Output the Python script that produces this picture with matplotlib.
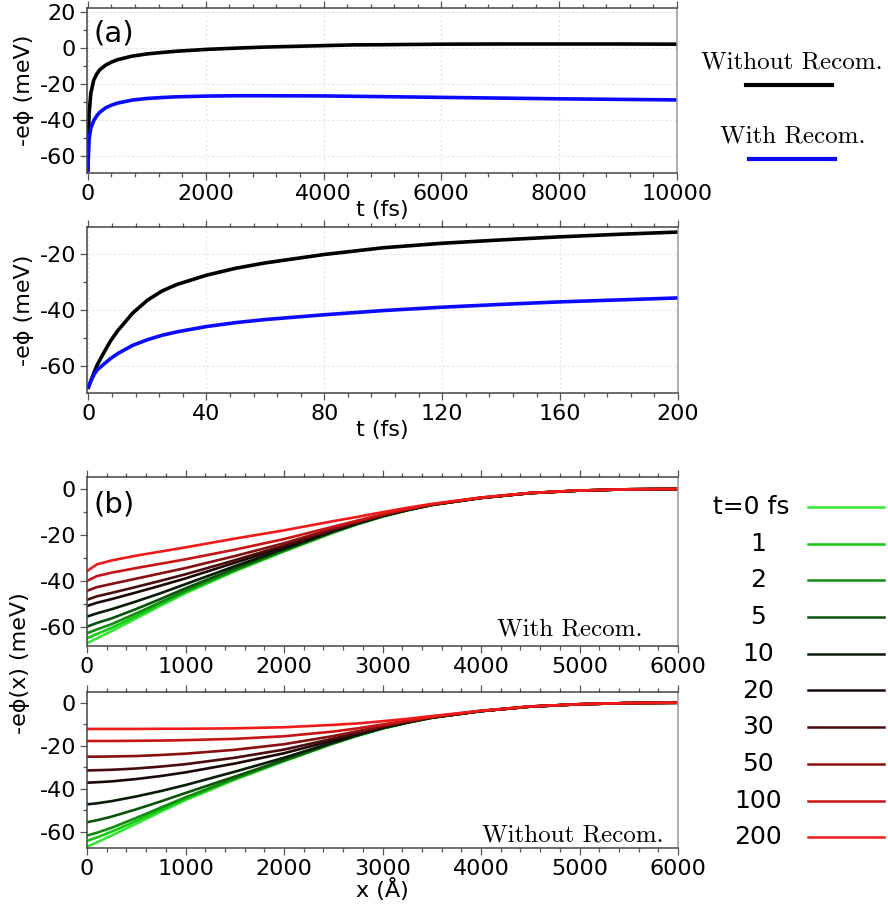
import matplotlib
matplotlib.use("Agg")
import matplotlib.pyplot as plt
from matplotlib.ticker import MultipleLocator
from matplotlib.lines import Line2D

plt.rcParams['axes.unicode_minus'] = False
plt.rcParams['font.family'] = 'DejaVu Sans'

# ---------------- data ----------------
# (a) top: surface potential over long times
t_long = [0, 20, 50, 100, 150, 200, 300, 400, 500, 750, 1000, 1250, 1500, 2000,
          2500, 3000, 4000, 4500, 5000, 6000, 7000, 8000, 9000, 10000]
phi_without_long = [-67.5, -36.5, -25.1, -17.8, -14.5, -12.2, -9.6, -7.9, -6.6, -4.6,
                    -3.4, -2.6, -1.9, -0.9, -0.2, 0.4, 1.2, 1.6, 1.7, 2.0, 2.1, 2.1,
                    2.1, 2.0]
phi_with_long = [-67.5, -50.6, -44.5, -40.2, -37.6, -35.7, -33.2, -31.7, -30.6, -28.9,
                 -28.0, -27.5, -27.1, -26.7, -26.5, -26.5, -26.6, -26.8, -27.0, -27.4,
                 -27.8, -28.2, -28.5, -28.8]

# (a) bottom: first 200 fs
t_short = [0, 1, 2, 3, 5, 7.5, 10, 15, 20, 25, 30, 40, 50, 60, 80, 100, 120,
           140, 160, 180, 200]
phi_without_short = [-67.5, -64.7, -62.0, -59.5, -55.6, -51.0, -47.3, -41.1, -36.5,
                     -33.2, -30.9, -27.6, -25.1, -23.2, -20.2, -17.8, -16.2, -15.0,
                     -13.9, -13.0, -12.2]
phi_with_short = [-67.5, -64.9, -62.8, -61.3, -59.5, -57.3, -55.5, -52.6, -50.6, -49.0,
                  -47.8, -45.9, -44.5, -43.4, -41.7, -40.2, -39.0, -38.0, -37.1,
                  -36.4, -35.7]

# (b) potential profiles phi(x) at selected times
x_pos = [0, 100, 250, 500, 750, 1000, 1500, 2000, 2500, 2750, 3000, 3250, 3500,
         4000, 4500, 5000, 5500, 6000]
times = ['t=0 fs', '1', '2', '5', '10', '20', '30', '50', '100', '200']
time_colors = ['#33e833', '#14c814', '#108c10', '#0b540b', '#071d07',
               '#1e0707', '#4a0c0c', '#8a1010', '#c81414', '#f01a1a']

profiles_with = [
    [-67.1, -65.0, -61.8, -56.3, -50.7, -45.3, -35.8, -27.2, -19.0, -15.3, -12.0, -9.3, -7.0, -3.9, -1.8, -0.7, -0.15, 0.0],
    [-64.9, -63.1, -60.4, -55.3, -50.0, -44.8, -35.5, -27.0, -18.9, -15.2, -12.0, -9.3, -7.0, -3.9, -1.8, -0.7, -0.15, 0.0],
    [-62.8, -61.1, -58.8, -54.1, -49.2, -44.2, -35.2, -26.8, -18.8, -15.2, -11.9, -9.3, -7.0, -3.9, -1.8, -0.7, -0.15, 0.0],
    [-59.9, -58.3, -56.3, -52.2, -47.8, -43.2, -34.6, -26.5, -18.6, -15.1, -11.9, -9.2, -7.0, -3.9, -1.8, -0.7, -0.15, 0.0],
    [-55.5, -54.1, -52.3, -48.9, -45.3, -41.4, -33.6, -26.0, -18.4, -14.9, -11.8, -9.2, -6.9, -3.9, -1.8, -0.7, -0.15, 0.0],
    [-50.9, -49.5, -47.9, -45.0, -42.0, -38.9, -32.1, -25.2, -18.0, -14.7, -11.6, -9.1, -6.9, -3.9, -1.8, -0.7, -0.15, 0.0],
    [-48.2, -46.7, -45.2, -42.6, -39.9, -37.1, -31.0, -24.6, -17.7, -14.5, -11.5, -9.0, -6.8, -3.9, -1.8, -0.7, -0.15, 0.0],
    [-44.3, -42.7, -41.3, -39.0, -36.7, -34.4, -29.2, -23.6, -17.2, -14.2, -11.3, -8.9, -6.8, -3.8, -1.8, -0.7, -0.15, 0.0],
    [-40.0, -37.9, -36.4, -34.4, -32.5, -30.6, -26.4, -21.8, -16.4, -13.7, -11.0, -8.7, -6.7, -3.8, -1.75, -0.7, -0.13, 0.0],
    [-35.7, -32.8, -31.1, -29.0, -27.2, -25.4, -21.6, -18.0, -14.0, -12.1, -10.1, -8.2, -6.5, -3.7, -1.7, -0.65, -0.12, 0.0],
]

profiles_without = [
    [-67.0, -65.0, -61.8, -56.3, -50.7, -45.3, -35.8, -27.2, -19.0, -15.3, -12.0, -9.3, -7.0, -3.9, -1.8, -0.7, -0.15, 0.0],
    [-64.3, -62.7, -60.0, -55.0, -49.8, -44.7, -35.5, -27.1, -18.9, -15.3, -12.0, -9.3, -7.0, -3.9, -1.8, -0.7, -0.15, 0.0],
    [-61.8, -60.5, -58.2, -53.6, -48.8, -44.0, -35.2, -26.9, -18.9, -15.2, -11.9, -9.3, -7.0, -3.9, -1.8, -0.7, -0.15, 0.0],
    [-55.6, -54.7, -53.0, -49.6, -45.9, -42.0, -34.4, -26.6, -18.7, -15.1, -11.9, -9.2, -7.0, -3.9, -1.8, -0.7, -0.15, 0.0],
    [-47.3, -46.8, -45.8, -43.6, -41.1, -38.3, -32.1, -25.6, -18.4, -14.9, -11.7, -9.2, -6.9, -3.9, -1.8, -0.7, -0.15, 0.0],
    [-37.2, -37.0, -36.6, -35.5, -34.1, -32.4, -28.3, -23.5, -17.5, -14.4, -11.5, -9.0, -6.8, -3.9, -1.8, -0.7, -0.15, 0.0],
    [-31.5, -31.4, -31.2, -30.6, -29.7, -28.6, -25.6, -21.8, -16.7, -13.9, -11.2, -8.9, -6.8, -3.8, -1.8, -0.7, -0.15, 0.0],
    [-25.1, -25.1, -25.0, -24.8, -24.3, -23.7, -21.9, -19.3, -15.5, -13.2, -10.8, -8.7, -6.7, -3.8, -1.75, -0.7, -0.13, 0.0],
    [-17.8, -17.8, -17.8, -17.7, -17.6, -17.4, -16.8, -15.6, -13.4, -11.9, -10.1, -8.3, -6.6, -3.8, -1.75, -0.7, -0.13, 0.0],
    [-12.2, -12.2, -12.2, -12.2, -12.1, -12.1, -11.9, -11.4, -10.3, -9.6, -8.6, -7.5, -6.2, -3.7, -1.7, -0.65, -0.12, 0.0],
]

# ---------------- figure ----------------
W, H = 888, 913
fig = plt.figure(figsize=(W / 100, H / 100), dpi=100)


def px_axes(left, top, right, bottom):
    return fig.add_axes([left / W, 1 - bottom / H, (right - left) / W, (bottom - top) / H])


def style_frame(ax, xmaj, xmin, ymaj, ymin, grid=False):
    for side in ['left', 'bottom', 'top']:
        ax.spines[side].set_color('#444444')
    ax.spines['right'].set_color('#999999')
    for sp in ax.spines.values():
        sp.set_linewidth(1.1)
    ax.xaxis.set_major_locator(MultipleLocator(xmaj))
    ax.xaxis.set_minor_locator(MultipleLocator(xmin))
    ax.yaxis.set_major_locator(MultipleLocator(ymaj))
    ax.yaxis.set_minor_locator(MultipleLocator(ymin))
    ax.tick_params(which='both', direction='out', top=True, right=False,
                   labeltop=False, color='#555555', width=0.9)
    ax.tick_params(which='major', length=5, labelsize=16, pad=3)
    ax.tick_params(which='minor', length=3)
    if grid:
        ax.grid(True, which='major', color='#e4e4e4', linestyle=(0, (2, 2)), linewidth=0.8)
        ax.set_axisbelow(True)


# (a) top panel
ax1 = px_axes(87, 8, 677, 173)
ax1.plot(t_long, phi_without_long, color='black', lw=2.6)
ax1.plot(t_long, phi_with_long, color='#0a0aff', lw=2.6)
ax1.set_xlim(-15, 10000)
ax1.set_ylim(-69.2, 22)
style_frame(ax1, 2000, 400, 20, 10, grid=True)
ax1.set_xlabel('t (fs)', fontsize=16, labelpad=-3)
ax1.set_ylabel('-e\u03d5 (meV)', fontsize=16, labelpad=4)
ax1.text(0.011, 0.93, '(a)', transform=ax1.transAxes, fontsize=21, va='top', ha='left')

# (a) bottom panel
ax2 = px_axes(87, 227, 678, 393)
ax2.plot(t_short, phi_without_short, color='black', lw=2.6)
ax2.plot(t_short, phi_with_short, color='#0a0aff', lw=2.6)
ax2.set_xlim(-0.5, 200)
ax2.set_ylim(-69.6, -10.4)
style_frame(ax2, 40, 8, 20, 10, grid=True)
ax2.set_xlabel('t (fs)', fontsize=16, labelpad=-3)
ax2.set_ylabel('-e\u03d5 (meV)', fontsize=16, labelpad=4)

# (b) with recombination
ax3 = px_axes(87, 477, 678, 646)
for prof, col in zip(profiles_with, time_colors):
    ax3.plot(x_pos, prof, color=col, lw=1.9)
ax3.set_xlim(0, 6000)
ax3.set_ylim(-68.3, 5.2)
style_frame(ax3, 1000, 200, 20, 10)
ax3.text(0.94, 0.06, 'With Recom.', transform=ax3.transAxes, fontsize=18,
         family='cmr10', ha='right', va='baseline')
ax3.text(0.011, 0.92, '(b)', transform=ax3.transAxes, fontsize=21, va='top', ha='left')

# (b) without recombination
ax4 = px_axes(87, 692, 678, 848)
for prof, col in zip(profiles_without, time_colors):
    ax4.plot(x_pos, prof, color=col, lw=1.9)
ax4.set_xlim(0, 6000)
ax4.set_ylim(-67.6, 5)
style_frame(ax4, 1000, 200, 20, 10)
ax4.text(0.975, 0.04, 'Without Recom.', transform=ax4.transAxes, fontsize=18,
         family='cmr10', ha='right', va='baseline')
ax4.set_xlabel('x (\u00c5)', fontsize=16, labelpad=-1)

fig.text(20 / W, 1 - 663 / H, '-e\u03d5(x) (meV)', rotation=90, fontsize=16,
         ha='center', va='center')

# legends drawn in pixel space on an overlay axes
leg = fig.add_axes([0, 0, 1, 1])
leg.set_xlim(0, W)
leg.set_ylim(H, 0)
leg.axis('off')
leg.patch.set_alpha(0)

leg.text(792, 62, 'Without Recom.', fontsize=18, family='cmr10', ha='center', va='center')
leg.add_line(Line2D([746, 832], [85, 85], color='black', lw=3))
leg.text(793, 136, 'With Recom.', fontsize=18, family='cmr10', ha='center', va='center')
leg.add_line(Line2D([749, 835], [159, 159], color='#0a0aff', lw=3))

for i, (lab, col) in enumerate(zip(times, time_colors)):
    y = 507 + i * 36.7
    xc = 751 if i == 0 else 758
    leg.text(xc, y, lab, fontsize=18, ha='center', va='center')
    leg.add_line(Line2D([808, 884], [y, y], color=col, lw=1.8))

fig.savefig('out.png', dpi=100)
